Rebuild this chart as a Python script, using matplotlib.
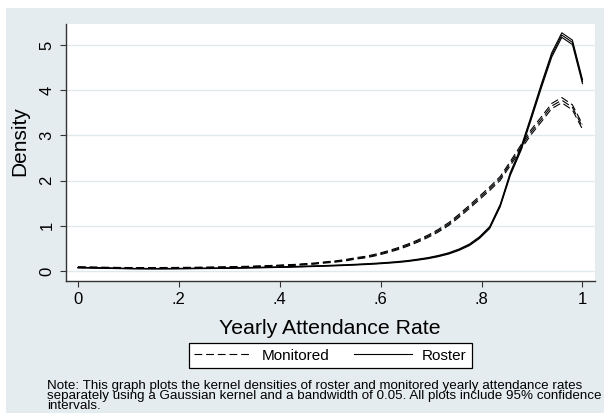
import numpy as np
import matplotlib
matplotlib.use("Agg")
from matplotlib import pyplot as plt
from matplotlib.patches import Rectangle

plt.rcParams['font.family'] = ['Liberation Sans', 'DejaVu Sans']

# kdensity grid (50 points on [0, 1])
rate = [0.000, 0.020, 0.041, 0.061, 0.082, 0.102, 0.122, 0.143, 0.163, 0.184,
        0.204, 0.224, 0.245, 0.265, 0.286, 0.306, 0.327, 0.347, 0.367, 0.388,
        0.408, 0.429, 0.449, 0.469, 0.490, 0.510, 0.531, 0.551, 0.571, 0.592,
        0.612, 0.633, 0.653, 0.673, 0.694, 0.714, 0.735, 0.755, 0.776, 0.796,
        0.816, 0.837, 0.857, 0.878, 0.898, 0.918, 0.939, 0.959, 0.980, 1.000]

roster = [0.075, 0.072, 0.068, 0.063, 0.058, 0.054, 0.052, 0.051, 0.051, 0.052,
          0.054, 0.056, 0.058, 0.060, 0.063, 0.066, 0.070, 0.074, 0.078, 0.083,
          0.088, 0.094, 0.100, 0.107, 0.114, 0.122, 0.131, 0.141, 0.152, 0.165,
          0.180, 0.198, 0.220, 0.250, 0.285, 0.330, 0.390, 0.470, 0.580, 0.740,
          0.960, 1.450, 2.150, 2.700, 3.380, 4.080, 4.780, 5.220, 5.060, 4.190]
roster_hw = [0.006, 0.006, 0.006, 0.006, 0.005, 0.005, 0.005, 0.005, 0.005, 0.005,
             0.005, 0.005, 0.005, 0.005, 0.006, 0.006, 0.006, 0.006, 0.006, 0.006,
             0.007, 0.007, 0.007, 0.007, 0.007, 0.008, 0.008, 0.008, 0.009, 0.009,
             0.009, 0.010, 0.010, 0.011, 0.012, 0.013, 0.014, 0.015, 0.017, 0.019,
             0.022, 0.026, 0.032, 0.036, 0.040, 0.044, 0.048, 0.050, 0.049, 0.045]

monitored = [0.085, 0.082, 0.078, 0.074, 0.071, 0.069, 0.068, 0.068, 0.069, 0.070,
             0.072, 0.074, 0.077, 0.080, 0.084, 0.088, 0.093, 0.099, 0.107, 0.115,
             0.125, 0.135, 0.150, 0.165, 0.190, 0.210, 0.240, 0.280, 0.310, 0.360,
             0.420, 0.490, 0.570, 0.660, 0.770, 0.890, 1.040, 1.220, 1.420, 1.620,
             1.820, 2.050, 2.380, 2.740, 3.070, 3.350, 3.650, 3.780, 3.620, 3.190]
monitored_hw = [0.009, 0.009, 0.008, 0.008, 0.008, 0.008, 0.008, 0.008, 0.008, 0.008,
                0.008, 0.008, 0.008, 0.008, 0.009, 0.009, 0.009, 0.009, 0.010, 0.010,
                0.011, 0.011, 0.012, 0.012, 0.013, 0.014, 0.015, 0.016, 0.017, 0.018,
                0.019, 0.021, 0.023, 0.024, 0.026, 0.028, 0.031, 0.033, 0.036, 0.038,
                0.040, 0.043, 0.046, 0.050, 0.053, 0.055, 0.057, 0.058, 0.057, 0.054]

xticks = [0, 0.2, 0.4, 0.6, 0.8, 1]
xticklabels = ['0', '.2', '.4', '.6', '.8', '1']
yticks = [0, 1, 2, 3, 4, 5]

note = ("Note: This graph plots the kernel densities of roster and monitored yearly attendance rates\n"
        "separately using a Gaussian kernel and a bandwidth of 0.05. All plots include 95% confidence\n"
        "intervals.")

bg = '#e5ecef'
grid_col = '#e0e9ec'
axis_col = '#333333'

fig = plt.figure(figsize=(6.04, 4.13), dpi=100)
fig.patch.set_facecolor('white')
fig.patches.append(Rectangle((6 / 604, 0), 1, (413 - 8) / 413, transform=fig.transFigure,
                             facecolor=bg, edgecolor='none', zorder=-10))

ax = fig.add_axes([66 / 604, (413 - 281) / 413, 529 / 604, 257 / 413])
ax.set_facecolor('white')

x = np.array(rate)
for est, hw, ls, lab in [(monitored, monitored_hw, (0, (7, 3.5)), 'Monitored'),
                         (roster, roster_hw, '-', 'Roster')]:
    est = np.array(est)
    hw = np.array(hw)
    ax.plot(x, est + hw, color='black', lw=0.8, linestyle=ls)
    ax.plot(x, est - hw, color='black', lw=0.8, linestyle=ls)
    ax.plot(x, est, color='black', lw=0.8, linestyle=ls, label=lab)

ax.set_xlim(-0.0238, 1.0248)
ax.set_ylim(-0.221, 5.465)
ax.set_xticks(xticks)
ax.set_xticklabels(xticklabels)
ax.set_yticks(yticks)
ax.set_yticklabels([str(v) for v in yticks], rotation=90, va='center')
ax.yaxis.grid(True, color=grid_col, lw=1.0)
ax.set_axisbelow(True)

for s in ['top', 'right']:
    ax.spines[s].set_visible(False)
for s in ['left', 'bottom']:
    ax.spines[s].set_color(axis_col)
    ax.spines[s].set_linewidth(1.0)
ax.tick_params(axis='both', direction='out', length=4.3, width=0.8, color=axis_col,
               labelsize=12, pad=3.4)
ax.tick_params(axis='y', pad=4.0)

fig.text(20 / 604, 1 - 141 / 413, 'Density', rotation=90, fontsize=15,
         ha='center', va='center')
fig.text(330 / 604, 1 - 333.5 / 413, 'Yearly Attendance Rate', fontsize=15.3,
         ha='center', va='baseline')

leg = fig.legend(loc='center', bbox_to_anchor=(330.5 / 604, 1 - 355.5 / 413), ncol=2,
                 fontsize=11, frameon=True, fancybox=False, shadow=False,
                 handlelength=3.8, handletextpad=0.65, columnspacing=1.6,
                 borderpad=0.35, borderaxespad=0)
leg.get_frame().set_edgecolor('black')
leg.get_frame().set_linewidth(0.9)
leg.get_frame().set_facecolor('white')
leg.get_frame().set_alpha(1)

fig.text(47 / 604, 1 - 379.5 / 413, note, fontsize=9.6, ha='left', va='top',
         linespacing=0.82)

fig.savefig('out.png', dpi=100)
